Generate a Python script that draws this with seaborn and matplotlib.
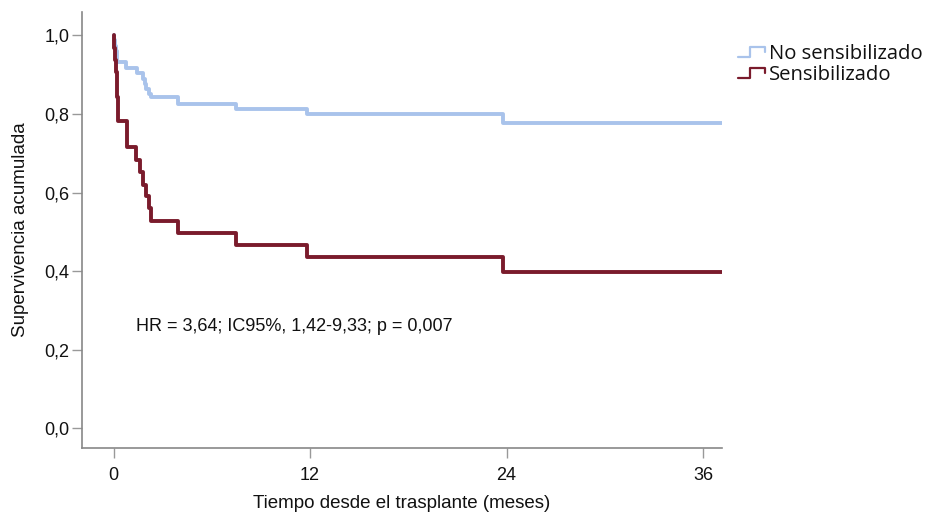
import seaborn as sns
import matplotlib.pyplot as plt
import pandas as pd
from matplotlib.lines import Line2D
from matplotlib.legend_handler import HandlerBase

# Kaplan-Meier curves (months, cumulative survival)
no_sens_time = [0, 0.05, 0.1, 0.15, 0.2, 0.78, 1.4, 1.8, 1.9, 2.0, 2.15, 2.3, 3.9, 7.5, 11.8, 23.8, 37.2]
no_sens_surv = [1.0, 0.987, 0.973, 0.96, 0.933, 0.916, 0.903, 0.89, 0.877, 0.864, 0.851, 0.842, 0.826, 0.813, 0.799, 0.778, 0.778]

sens_time = [0, 0.05, 0.1, 0.15, 0.2, 0.24, 0.8, 1.35, 1.6, 1.77, 1.95, 2.14, 2.3, 3.9, 7.5, 11.8, 23.8, 37.2]
sens_surv = [1.0, 0.969, 0.938, 0.906, 0.844, 0.781, 0.716, 0.684, 0.652, 0.62, 0.59, 0.56, 0.527, 0.497, 0.466, 0.435, 0.398, 0.398]

groups = ["No sensibilizado", "Sensibilizado"]
colors = {"No sensibilizado": "#a9c3eb", "Sensibilizado": "#7a1b2c"}
x_ticks = [0, 12, 24, 36]
y_ticks = [0.0, 0.2, 0.4, 0.6, 0.8, 1.0]
note = "HR = 3,64; IC95%, 1,42-9,33; p = 0,007"

df = pd.concat([
    pd.DataFrame({"t": no_sens_time, "s": no_sens_surv, "grupo": groups[0]}),
    pd.DataFrame({"t": sens_time, "s": sens_surv, "grupo": groups[1]}),
])

sns.set_style("white")
plt.rcParams["font.family"] = ["Liberation Sans", "DejaVu Sans"]
plt.rcParams["text.color"] = "#111111"
plt.rcParams["axes.labelcolor"] = "#111111"

fig = plt.figure(figsize=(9.29, 5.14), dpi=100)
ax = fig.add_axes([0.088, 0.128, 0.689, 0.849])

sns.lineplot(data=df, x="t", y="s", hue="grupo", palette=colors, estimator=None,
             drawstyle="steps-post", linewidth=2.8, legend=False, ax=ax)

ax.set_xlim(-1.95, 37.15)
ax.set_ylim(-0.051, 1.06)
ax.set_xticks(x_ticks)
ax.set_xticklabels([str(v) for v in x_ticks], fontsize=13)
ax.set_yticks(y_ticks)
ax.set_yticklabels([f"{v:.1f}".replace(".", ",") for v in y_ticks], fontsize=13)
ax.tick_params(axis="both", which="both", length=7, width=1, color="#999999",
               labelcolor="#111111", direction="out", left=True, bottom=True)
ax.tick_params(axis="x", pad=6.5)
ax.tick_params(axis="y", pad=2)
for side in ["top", "right"]:
    ax.spines[side].set_visible(False)
for side in ["left", "bottom"]:
    ax.spines[side].set_color("#888888")
    ax.spines[side].set_linewidth(1.2)

ax.set_xlabel("Tiempo desde el trasplante (meses)", fontsize=13.5, labelpad=8)
ax.set_ylabel("Supervivencia acumulada", fontsize=13.5, labelpad=11)
ax.text(1.35, 0.26, note, fontsize=13, va="center", ha="left")


class StepHandler(HandlerBase):
    def create_artists(self, legend, orig_handle, xdescent, ydescent, width, height, fontsize, trans):
        w, h = width, height
        x0, y0 = -xdescent, -ydescent
        xs = [x0, x0 + 0.45 * w, x0 + 0.45 * w, x0 + w, x0 + w]
        ys = [y0 + 0.1 * h, y0 + 0.1 * h, y0 + 0.8 * h, y0 + 0.8 * h, y0 + 0.45 * h]
        line = Line2D(xs, ys, color=orig_handle.get_color(), linewidth=1.6, transform=trans)
        return [line]


handles = [Line2D([], [], color=colors[g]) for g in groups]
fig.legend(handles, groups, loc="upper left", bbox_to_anchor=(0.794, 0.915),
           frameon=False, prop={"family": ["Open Sans", "DejaVu Sans"], "size": 14.6},
           handler_map={Line2D: StepHandler()}, handlelength=1.35, handletextpad=0.2,
           labelspacing=0.05, borderpad=0, borderaxespad=0)

fig.savefig("out.png", dpi=100)
